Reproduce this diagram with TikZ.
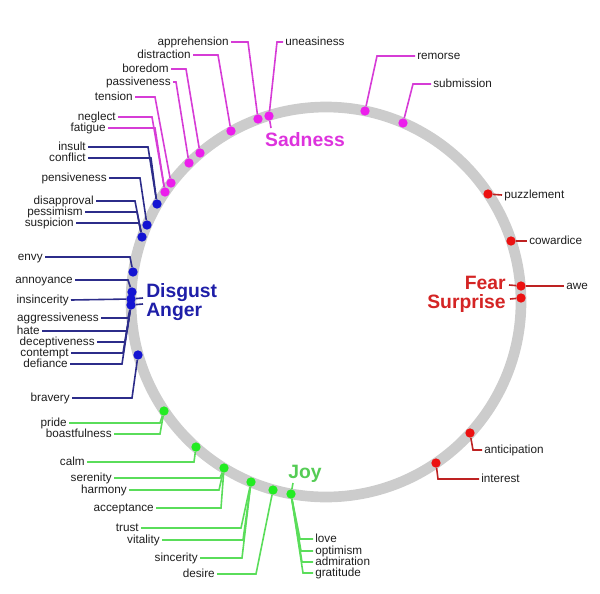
\documentclass[tikz,border=0pt]{standalone}
\usepackage{fontspec}
\setmainfont{Liberation Sans}
\definecolor{sadtext}{RGB}{221,51,221}
\definecolor{sadline}{RGB}{214,60,214}
\definecolor{saddot}{RGB}{236,30,236}
\definecolor{disgtext}{RGB}{30,30,168}
\definecolor{disgline}{RGB}{44,44,138}
\definecolor{disgdot}{RGB}{20,20,210}
\definecolor{joytext}{RGB}{85,204,85}
\definecolor{joyline}{RGB}{90,221,90}
\definecolor{joydot}{RGB}{34,236,34}
\definecolor{feartext}{RGB}{212,36,36}
\definecolor{fearline}{RGB}{190,34,34}
\definecolor{feardot}{RGB}{236,17,17}
\definecolor{ringgray}{RGB}{204,204,204}
\definecolor{wordgray}{RGB}{30,30,30}

\begin{document}
\begin{tikzpicture}[
            x=0.75pt, y=-0.75pt,
            word/.style = {font=\fontsize{8.8}{10}\selectfont, text=wordgray, inner sep=1.5pt, text height=6.4pt, text depth=1.8pt},
            mood/.style = {font=\fontsize{14.5}{16}\selectfont\bfseries, inner sep=0pt, text height=10.4pt, text depth=0pt},
            dot/.style = {circle, inner sep=0pt, minimum size=7pt},
            lead/.style = {line width=1.2pt}
        ]

        \useasboundingbox (0,0) rectangle (600,593);
        \draw[ringgray, line width=8pt] (326,302) circle [radius=195];

        \node[dot, fill=saddot] (m1) at (258,119) {};
        \node[dot, fill=saddot] (m2) at (269,116) {};
        \node[dot, fill=saddot] (m3) at (231,131) {};
        \node[dot, fill=saddot] (m4) at (200,153) {};
        \node[dot, fill=saddot] (m5) at (189,163) {};
        \node[dot, fill=saddot] (m6) at (171,183) {};
        \node[dot, fill=saddot] (m7) at (165,192) {};
        \node[dot, fill=saddot] (m8) at (365,111) {};
        \node[dot, fill=saddot] (m9) at (403,123) {};

        \node[dot, fill=disgdot] (b1) at (157,204) {};
        \node[dot, fill=disgdot] (b2) at (147,225) {};
        \node[dot, fill=disgdot] (b3) at (142,237) {};
        \node[dot, fill=disgdot] (b4) at (133,272) {};
        \node[dot, fill=disgdot] (b5) at (132,292) {};
        \node[dot, fill=disgdot] (b6) at (131,299) {};
        \node[dot, fill=disgdot] (b7) at (131,305) {};
        \node[dot, fill=disgdot] (b8) at (138,355) {};

        \node[dot, fill=joydot] (g1) at (164,411) {};
        \node[dot, fill=joydot] (g2) at (196,447) {};
        \node[dot, fill=joydot] (g3) at (224,468) {};
        \node[dot, fill=joydot] (g4) at (251,482) {};
        \node[dot, fill=joydot] (g5) at (273,490) {};
        \node[dot, fill=joydot] (g6) at (291,494) {};

        \node[dot, fill=feardot] (r1) at (488,194) {};
        \node[dot, fill=feardot] (r2) at (511,241) {};
        \node[dot, fill=feardot] (r3) at (521,286) {};
        \node[dot, fill=feardot] (r4) at (521,298) {};
        \node[dot, fill=feardot] (r5) at (470,433) {};
        \node[dot, fill=feardot] (r6) at (436,463) {};

        \node[mood, text=sadtext] (sadness) at (305,140) {Sadness};
        \node[mood, text=disgtext, anchor=west] (disgust) at (146,291) {Disgust};
        \node[mood, text=disgtext, anchor=west] (anger) at (146,310) {Anger};
        \node[mood, text=feartext, anchor=east] (fear) at (506,283) {Fear};
        \node[mood, text=feartext, anchor=east] (surprise) at (506,302) {Surprise};
        \node[mood, text=joytext] (joy) at (305,472) {Joy};
        \coordinate (sadtick) at (271,128);
        \coordinate (disgtick) at (143,298);
        \coordinate (angtick) at (143,304);
        \coordinate (feartick) at (509,285);
        \coordinate (surptick) at (510,299);
        \coordinate (joytick) at (293,483);

        \node[word, anchor=east] (apprehension) at (231,42) {apprehension};
        \node[word, anchor=east] (distraction) at (193,55) {distraction};
        \node[word, anchor=east] (boredom) at (171,69) {boredom};
        \node[word, anchor=east] (passiveness) at (173,82) {passiveness};
        \node[word, anchor=east] (tension) at (135,97) {tension};
        \node[word, anchor=east] (neglect) at (118,117) {neglect};
        \node[word, anchor=east] (fatigue) at (108,128) {fatigue};
        \node[word, anchor=west] (uneasiness) at (283,42) {uneasiness};
        \node[word, anchor=west] (remorse) at (415,56) {remorse};
        \node[word, anchor=west] (submission) at (431,84) {submission};

        \node[word, anchor=east] (insult) at (88,147) {insult};
        \node[word, anchor=east] (conflict) at (88,158) {conflict};
        \node[word, anchor=east] (pensiveness) at (109,178) {pensiveness};
        \node[word, anchor=east] (disapproval) at (96,201) {disapproval};
        \node[word, anchor=east] (pessimism) at (85,212) {pessimism};
        \node[word, anchor=east] (suspicion) at (76,223) {suspicion};
        \node[word, anchor=east] (envy) at (45,257) {envy};
        \node[word, anchor=east] (annoyance) at (75,280) {annoyance};
        \node[word, anchor=east] (insincerity) at (71,300) {insincerity};
        \node[word, anchor=east] (aggressiveness) at (101,318) {aggressiveness};
        \node[word, anchor=east] (hate) at (42,331) {hate};
        \node[word, anchor=east] (deceptiveness) at (97,342) {deceptiveness};
        \node[word, anchor=east] (contempt) at (71,353) {contempt};
        \node[word, anchor=east] (defiance) at (70,364) {defiance};
        \node[word, anchor=east] (bravery) at (72,398) {bravery};

        \node[word, anchor=east] (pride) at (69,423) {pride};
        \node[word, anchor=east] (boastfulness) at (114,434) {boastfulness};
        \node[word, anchor=east] (calm) at (87,462) {calm};
        \node[word, anchor=east] (serenity) at (114,478) {serenity};
        \node[word, anchor=east] (harmony) at (129,490) {harmony};
        \node[word, anchor=east] (acceptance) at (156,508) {acceptance};
        \node[word, anchor=east] (trust) at (141,528) {trust};
        \node[word, anchor=east] (vitality) at (162,540) {vitality};
        \node[word, anchor=east] (sincerity) at (200,558) {sincerity};
        \node[word, anchor=east] (desire) at (217,574) {desire};
        \node[word, anchor=west] (love) at (313,539) {love};
        \node[word, anchor=west] (optimism) at (313,551) {optimism};
        \node[word, anchor=west] (admiration) at (313,562) {admiration};
        \node[word, anchor=west] (gratitude) at (313,573) {gratitude};

        \node[word, anchor=west] (puzzlement) at (502,195) {puzzlement};
        \node[word, anchor=west] (cowardice) at (527,241) {cowardice};
        \node[word, anchor=west] (awe) at (564,286) {awe};
        \node[word, anchor=west] (anticipation) at (482,450) {anticipation};
        \node[word, anchor=west] (interest) at (479,479) {interest};

        \draw[lead, sadline] (apprehension.east) -- (248,42) -- (m1);
        \draw[lead, sadline] (uneasiness.west) -- (277,42) -- (m2);
        \draw[lead, sadline] (distraction.east) -- (218,55) -- (m3);
        \draw[lead, sadline] (boredom.east) -- (186,69) -- (m4);
        \draw[lead, sadline] (passiveness.east) -- (176,82) -- (m5);
        \draw[lead, sadline] (tension.east) -- (155,97) -- (m6);
        \draw[lead, sadline] (neglect.east) -- (152,117) -- (m7);
        \draw[lead, sadline] (fatigue.east) -- (155,128) -- (m7);
        \draw[lead, sadline] (remorse.west) -- (377,56) -- (m8);
        \draw[lead, sadline] (submission.west) -- (413,84) -- (m9);
        \draw[lead, sadline] (m2) -- (sadtick);

        \draw[lead, disgline] (insult.east) -- (148,147) -- (b1);
        \draw[lead, disgline] (conflict.east) -- (151,158) -- (b1);
        \draw[lead, disgline] (pensiveness.east) -- (140,178) -- (b2);
        \draw[lead, disgline] (disapproval.east) -- (135,201) -- (b3);
        \draw[lead, disgline] (pessimism.east) -- (137,212) -- (b3);
        \draw[lead, disgline] (suspicion.east) -- (139,223) -- (b3);
        \draw[lead, disgline] (envy.east) -- (130,257) -- (b4);
        \draw[lead, disgline] (annoyance.east) -- (128,280) -- (b5);
        \draw[lead, disgline] (insincerity.east) -- (b6);
        \draw[lead, disgline] (aggressiveness.east) -- (128,318) -- (b7);
        \draw[lead, disgline] (hate.east) -- (127,331) -- (b7);
        \draw[lead, disgline] (deceptiveness.east) -- (125,342) -- (b7);
        \draw[lead, disgline] (contempt.east) -- (123,353) -- (b7);
        \draw[lead, disgline] (defiance.east) -- (122,364) -- (b7);
        \draw[lead, disgline] (bravery.east) -- (132,398) -- (b8);
        \draw[lead, disgline] (b6) -- (disgtick);
        \draw[lead, disgline] (b7) -- (angtick);

        \draw[lead, joyline] (pride.east) -- (160,423) -- (g1);
        \draw[lead, joyline] (boastfulness.east) -- (160,434) -- (g1);
        \draw[lead, joyline] (calm.east) -- (194,462) -- (g2);
        \draw[lead, joyline] (serenity.east) -- (220,478) -- (g3);
        \draw[lead, joyline] (harmony.east) -- (219,490) -- (g3);
        \draw[lead, joyline] (acceptance.east) -- (221,508) -- (g3);
        \draw[lead, joyline] (trust.east) -- (241,528) -- (g4);
        \draw[lead, joyline] (vitality.east) -- (243,540) -- (g4);
        \draw[lead, joyline] (sincerity.east) -- (242,558) -- (g4);
        \draw[lead, joyline] (desire.east) -- (256,574) -- (g5);
        \draw[lead, joyline] (love.west) -- (300,539) -- (g6);
        \draw[lead, joyline] (optimism.west) -- (301,551) -- (g6);
        \draw[lead, joyline] (admiration.west) -- (302,562) -- (g6);
        \draw[lead, joyline] (gratitude.west) -- (303,573) -- (g6);
        \draw[lead, joyline] (g6) -- (joytick);

        \draw[lead, fearline] (puzzlement.west) -- (r1);
        \draw[lead, fearline] (cowardice.west) -- (r2);
        \draw[lead, fearline] (awe.west) -- (r3);
        \draw[lead, fearline] (anticipation.west) -- (473,450) -- (r5);
        \draw[lead, fearline] (interest.west) -- (438,479) -- (r6);
        \draw[lead, fearline] (feartick) -- (r3);
        \draw[lead, fearline] (surptick) -- (r4);
    \end{tikzpicture}
\end{document}
